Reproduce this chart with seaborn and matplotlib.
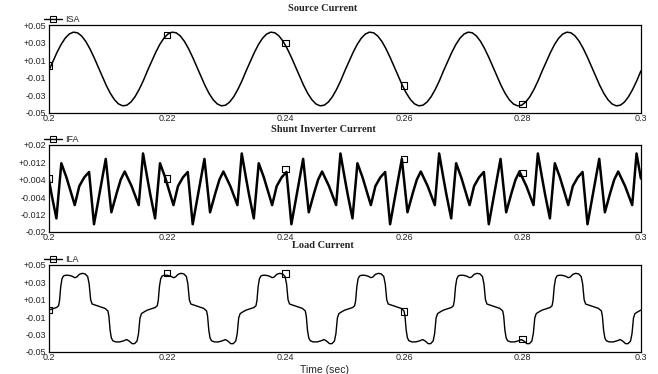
import numpy as np
import pandas as pd
import seaborn as sns
import matplotlib.pyplot as plt
from matplotlib.lines import Line2D

# ---- data (one 60 Hz cycle each, phase 0..1) ----
f_line = 60.0
n_cycles = 6
t_start = 0.2

# source current ISA (kA) - clean sinusoid
isa_phase = [i / 24 for i in range(24)]
isa_vals = [-0.0022, 0.0083, 0.0187, 0.0278, 0.0350, 0.0398, 0.0419, 0.0412,
            0.0376, 0.0315, 0.0232, 0.0134, 0.0026, -0.0083, -0.0187, -0.0278,
            -0.0350, -0.0398, -0.0419, -0.0412, -0.0376, -0.0315, -0.0232, -0.0134]

# shunt inverter current IFA (kA) - compensating harmonics
ifa_phase = [0.000, 0.030, 0.078, 0.128, 0.180, 0.264, 0.310, 0.360, 0.409,
             0.459, 0.578, 0.635, 0.690, 0.730, 0.770, 0.840, 0.912, 0.956]
ifa_vals = [0.0045, -0.0030, -0.0138, 0.0115, 0.0050, -0.0077, 0.0010, 0.0050, 0.0075,
            -0.0165, 0.0135, -0.0110, -0.0020, 0.0040, 0.0077, 0.0010, -0.0077, 0.0160]

# load current ILA (kA) - rectifier type load
ila_phase = [0.000, 0.040, 0.080, 0.100, 0.110, 0.122, 0.135, 0.150, 0.170, 0.200,
             0.235, 0.265, 0.285, 0.310, 0.340, 0.370, 0.395, 0.410, 0.425, 0.440,
             0.480, 0.530, 0.570, 0.600, 0.610, 0.622, 0.635, 0.650, 0.680, 0.720,
             0.760, 0.790, 0.815, 0.845, 0.870, 0.895, 0.910, 0.925, 0.940, 0.975]
ila_vals = [-0.0020, -0.0005, 0.0010, 0.0030, 0.0090, 0.0250, 0.0340, 0.0372, 0.0380, 0.0380,
            0.0370, 0.0352, 0.0360, 0.0390, 0.0402, 0.0395, 0.0365, 0.0280, 0.0100, 0.0050,
            0.0035, 0.0015, 0.0000, -0.0030, -0.0090, -0.0250, -0.0340, -0.0372, -0.0385, -0.0385,
            -0.0372, -0.0358, -0.0375, -0.0405, -0.0405, -0.0375, -0.0290, -0.0110, -0.0060, -0.0035]

# marker squares drawn by the scope every 0.02 s
mark_t = [0.2, 0.22, 0.24, 0.26, 0.28]
isa_mark = [0.004, 0.0385, 0.0294, -0.0187, -0.0397]
ifa_mark = [0.0045, 0.0046, 0.0088, 0.0134, 0.0071]
ila_mark = [-0.002, 0.0405, 0.0400, -0.0037, -0.0354]

xticks = [0.2, 0.22, 0.24, 0.26, 0.28, 0.3]
xtick_labels = ['0.2', '0.22', '0.24', '0.26', '0.28', '0.3']
yticks_big = [0.05, 0.03, 0.01, -0.01, -0.03, -0.05]
ylabels_big = ['+0.05', '+0.03', '+0.01', '-0.01', '-0.03', '-0.05']
yticks_small = [0.02, 0.012, 0.004, -0.004, -0.012, -0.02]
ylabels_small = ['+0.02', '+0.012', '+0.004', '-0.004', '-0.012', '-0.02']

titles = ['Source Current', 'Shunt Inverter Current', 'Load Current']
names = ['ISA', 'IFA', 'ILA']


def expand(phase, vals):
    # repeat the read cycle over the 0.2-0.3 s window
    ph = np.asarray(phase)
    v = np.asarray(vals)
    t = np.concatenate([t_start + (k + ph) / f_line for k in range(n_cycles)] + [[0.3]])
    y = np.concatenate([v] * n_cycles + [v[:1]])
    return pd.DataFrame({'t': t, 'i': y})


sns.set_style('white')
plt.rcParams['font.family'] = ['Liberation Sans', 'DejaVu Sans']

fig = plt.figure(figsize=(6.58, 3.74), dpi=100)
left, width = 0.074, 0.900
boxes = [(0.698, 0.235), (0.380, 0.233), (0.059, 0.233)]
series = [(isa_phase, isa_vals, isa_mark, 1.1),
          (ifa_phase, ifa_vals, ifa_mark, 1.8),
          (ila_phase, ila_vals, ila_mark, 1.0)]
title_y = [1.19, 1.17, 1.22]

for k, ((b, h), (ph, vals, marks, lw)) in enumerate(zip(boxes, series)):
    ax = fig.add_axes([left, b, width, h])
    df = expand(ph, vals)
    sns.lineplot(data=df, x='t', y='i', ax=ax, color='black', lw=lw,
                 estimator=None, sort=False)
    sns.scatterplot(x=mark_t, y=marks, ax=ax, marker='s', s=22,
                    facecolor='none', edgecolor='black', linewidth=0.8, zorder=5)
    ax.set_xlim(0.2, 0.3)
    if k == 1:
        ax.set_ylim(-0.02, 0.02)
        ax.set_yticks(yticks_small)
        ax.set_yticklabels(ylabels_small)
    else:
        ax.set_ylim(-0.05, 0.05)
        ax.set_yticks(yticks_big)
        ax.set_yticklabels(ylabels_big)
    ax.set_xticks(xticks)
    ax.set_xticklabels(xtick_labels)
    ax.tick_params(axis='x', direction='in', length=3, pad=1, labelsize=6.5)
    ax.tick_params(axis='y', direction='in', length=2, pad=2, labelsize=6.5)
    ax.set_xlabel('')
    ax.set_ylabel('')
    for sp in ax.spines.values():
        sp.set_color('black')
        sp.set_linewidth(0.9)
    ax.text(0.463, title_y[k], titles[k], transform=ax.transAxes, ha='center',
            va='center', fontsize=7.5, fontweight='bold', family='Liberation Serif')
    handle = Line2D([], [], color='black', lw=1.0, marker='s', ms=4, mfc='none', mew=0.8)
    ax.legend([handle], [names[k]], loc='center left', bbox_to_anchor=(-0.008, 1.06),
              frameon=False, fontsize=6.5, handlelength=2.0, handletextpad=0.3,
              borderpad=0, borderaxespad=0)
    if k == 2:
        ax.set_xlabel('Time (sec)', fontsize=7.5, labelpad=1)
        ax.xaxis.set_label_coords(0.466, -0.15)

fig.savefig('out.png', dpi=100)
